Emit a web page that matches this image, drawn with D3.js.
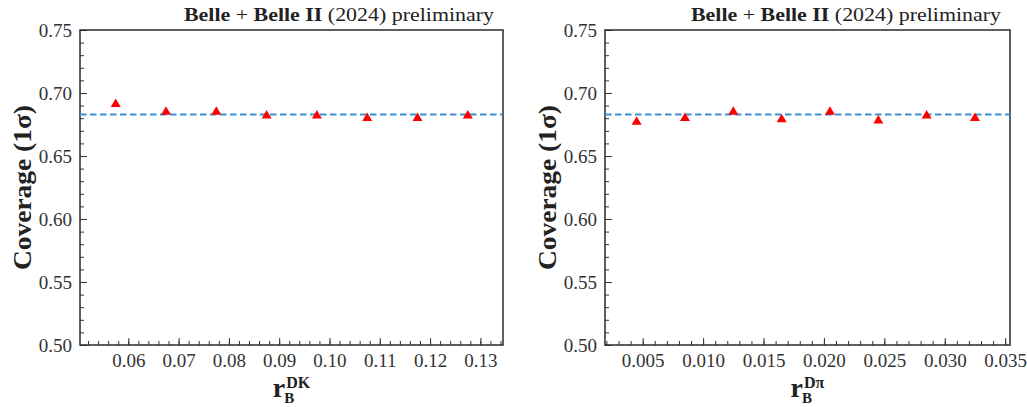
<!DOCTYPE html>
<html>
<head>
<meta charset="utf-8">
<script src="https://cdn.jsdelivr.net/npm/d3@7"></script>
<style>
  html, body { margin: 0; padding: 0; background: #fff; }
  svg { display: block; }
  text { font-family: "Liberation Serif", "Times New Roman", serif; fill: #222; }
</style>
</head>
<body>
<svg id="chart" width="1027" height="407"></svg>
<script>
// ---- data ----
const rbDK = [0.0575, 0.0675, 0.0775, 0.0875, 0.0975, 0.1075, 0.1175, 0.1275];
const coverageDK = [0.692, 0.686, 0.686, 0.683, 0.683, 0.681, 0.681, 0.683];
const rbDpi = [0.0045, 0.0085, 0.0125, 0.0165, 0.0205, 0.0245, 0.0285, 0.0325];
const coverageDpi = [0.678, 0.681, 0.686, 0.680, 0.686, 0.679, 0.683, 0.681];
const expectedCoverage = 0.683;
const ticksDK = [0.06, 0.07, 0.08, 0.09, 0.10, 0.11, 0.12, 0.13];
const ticksDpi = [0.005, 0.010, 0.015, 0.020, 0.025, 0.030, 0.035];
const ticksY = [0.50, 0.55, 0.60, 0.65, 0.70, 0.75];

const svg = d3.select("#chart");
const SERIF = '"Liberation Serif", "Times New Roman", serif';

function panel(opts) {
  const {left, right, top, bottom, xDomain, xs, ys, xTicks, xFmt, xMinorStep, supText} = opts;
  const x = d3.scaleLinear().domain(xDomain).range([left, right]);
  const y = d3.scaleLinear().domain([0.50, 0.75]).range([bottom, top]);
  const g = svg.append("g");

  const xMinor = d3.range(Math.ceil(xDomain[0] / xMinorStep - 1e-9), Math.floor(xDomain[1] / xMinorStep + 1e-9) + 1)
    .map(i => i * xMinorStep);
  const yMinor = d3.range(50, 76).map(i => i / 100);

  const xAxisMinor = d3.axisBottom(x).tickValues(xMinor).tickSize(-4).tickFormat("");
  const xAxis = d3.axisBottom(x).tickValues(xTicks).tickSize(-7).tickPadding(9).tickFormat(xFmt);
  const gxm = g.append("g").attr("transform", `translate(0,${bottom})`).call(xAxisMinor);
  const gx = g.append("g").attr("transform", `translate(0,${bottom})`).call(xAxis);
  const yAxisMinor = d3.axisLeft(y).tickValues(yMinor).tickSize(-4).tickFormat("");
  const yAxis = d3.axisLeft(y).tickValues(ticksY).tickSize(-7).tickPadding(8).tickFormat(d3.format(".2f"));
  const gym = g.append("g").attr("transform", `translate(${left},0)`).call(yAxisMinor);
  const gy = g.append("g").attr("transform", `translate(${left},0)`).call(yAxis);

  [gxm, gx, gym, gy].forEach(a => {
    a.attr("font-family", null).attr("font-size", null);
    a.select(".domain").remove();
    a.selectAll(".tick line").attr("stroke", "#333").attr("stroke-width", 1);
    a.selectAll(".tick text").style("font-family", SERIF).style("font-size", "19px").style("fill", "#333");
  });
  gx.selectAll(".tick text").attr("dy", "0.71em");

  // frame
  g.append("rect").attr("x", left).attr("y", top).attr("width", right - left).attr("height", bottom - top)
    .attr("fill", "none").attr("stroke", "#2a2a2a").attr("stroke-width", 1.5);

  // dashed expected coverage line
  g.append("line").attr("x1", left).attr("x2", right)
    .attr("y1", y(expectedCoverage)).attr("y2", y(expectedCoverage))
    .attr("stroke", "#3d8fd1").attr("stroke-width", 2).attr("stroke-dasharray", "6.5,3.5");

  // triangles
  g.selectAll("path.pt").data(xs.map((v, i) => [v, ys[i]])).enter().append("path")
    .attr("class", "pt")
    .attr("d", d => {
      const cx = x(d[0]), cy = y(d[1]);
      return `M${cx},${cy - 4.5}L${cx + 5},${cy + 4}L${cx - 5},${cy + 4}Z`;
    })
    .attr("fill", "#ff0000");

  // title
  const t = g.append("text").attr("x", right - 9).attr("y", 21).attr("text-anchor", "end")
    .style("font-size", "19.5px").attr("textLength", 310).attr("lengthAdjust", "spacingAndGlyphs");
  t.append("tspan").attr("font-weight", "bold").text("Belle");
  t.append("tspan").text(" + ");
  t.append("tspan").attr("font-weight", "bold").text("Belle II");
  t.append("tspan").text(" (2024) preliminary");

  // y label
  const cy = (top + bottom) / 2;
  g.append("text").attr("transform", `translate(${left - 49},${cy}) rotate(-90)`)
    .attr("text-anchor", "middle").style("font-size", "25px").attr("font-weight", "bold")
    .attr("textLength", 165).attr("lengthAdjust", "spacingAndGlyphs")
    .text("Coverage (1σ)");

  // x label: r_B^{sup}
  const cx = (left + right) / 2;
  const rT = g.append("text").attr("y", 397).style("font-size", "28px").attr("font-weight", "bold").text("r");
  const supT = g.append("text").attr("y", 388).style("font-size", "16px").attr("font-weight", "bold").text(supText);
  const subT = g.append("text").attr("y", 403).style("font-size", "15px").attr("font-weight", "bold").text("B");
  const rW = rT.node().getComputedTextLength();
  const supW = supT.node().getComputedTextLength();
  const x0 = cx - (rW + 1 + supW) / 2;
  rT.attr("x", x0);
  supT.attr("x", x0 + rW + 1);
  subT.attr("x", x0 + rW - 1);
}

panel({
  left: 80, right: 503, top: 30, bottom: 345,
  xDomain: [0.0504, 0.1345], xs: rbDK, ys: coverageDK,
  xTicks: ticksDK, xFmt: d3.format(".2f"), xMinorStep: 0.002, supText: "DK"
});
panel({
  left: 605, right: 1010, top: 30, bottom: 345,
  xDomain: [0.00188, 0.0354], xs: rbDpi, ys: coverageDpi,
  xTicks: ticksDpi, xFmt: d3.format(".3f"), xMinorStep: 0.001, supText: "Dπ"
});
</script>
</body>
</html>
